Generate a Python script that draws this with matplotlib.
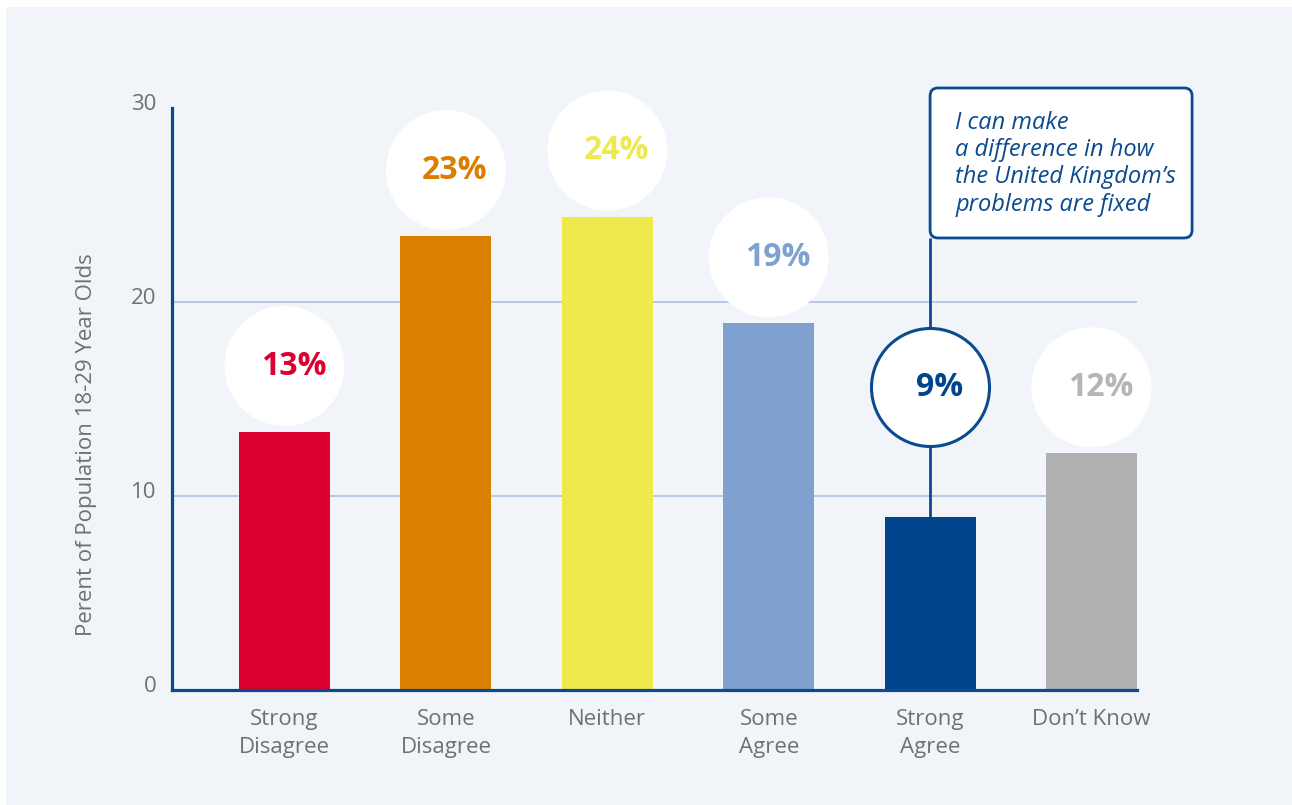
import matplotlib
matplotlib.use("Agg")
import matplotlib.pyplot as plt
from matplotlib.patches import Rectangle, FancyBboxPatch
from matplotlib.transforms import ScaledTranslation

# Survey responses, 18-29 year olds
categories = ["Strong\nDisagree", "Some\nDisagree", "Neither", "Some\nAgree", "Strong\nAgree", "Don’t Know"]
values = [13.3, 23.4, 24.4, 18.9, 8.9, 12.2]
bar_colors = ["#dc0030", "#db7f00", "#efe94e", "#7fa1d0", "#00448b", "#b0b0b0"]
label_colors = ["#dc0030", "#db7f00", "#efe94e", "#7fa1d0", "#00448b", "#b5b5b5"]
y_ticks = [0, 10, 20, 30]
highlight = 4  # "Strong Agree"
callout = "I can make\na difference in how\nthe United Kingdom’s\nproblems are fixed"

NAVY = "#0b4a8f"
GREY_TXT = "#707070"
PANEL = "#f1f4f9"
FONT = "Open Sans"

plt.rcParams["font.family"] = [FONT, "DejaVu Sans"]

fig = plt.figure(figsize=(12.92, 8.05), dpi=100, facecolor="white")
fig.patches.append(Rectangle((6 / 1292, 0), 1 - 6 / 1292, 1 - 7 / 805,
                             transform=fig.transFigure, facecolor=PANEL,
                             edgecolor="none", zorder=-10))

ax = fig.add_axes([172 / 1292, (805 - 690) / 805, 965 / 1292, 582 / 805])
ax.set_facecolor("none")

x = list(range(len(categories)))
ax.bar(x, values, width=0.564, color=bar_colors, zorder=3)

ax.set_xlim(-0.697, 5.282)
ax.set_ylim(0, 30)

# axes styling
for side in ("top", "right"):
    ax.spines[side].set_visible(False)
for side in ("left", "bottom"):
    ax.spines[side].set_color(NAVY)
    ax.spines[side].set_linewidth(2.3)
    ax.spines[side].set_zorder(5)

ax.set_yticks(y_ticks)
ax.set_yticklabels([str(t) for t in y_ticks], fontsize=16, color=GREY_TXT)
ax.tick_params(axis="y", length=0, pad=11)
for lab in ax.get_yticklabels():
    lab.set_transform(lab.get_transform() + ScaledTranslation(0, 0.06, fig.dpi_scale_trans))

ax.set_xticks(x)
ax.set_xticklabels(categories, fontsize=16, color=GREY_TXT, linespacing=1.4)
ax.tick_params(axis="x", length=0, pad=14)

ax.grid(axis="y", color="#adc2e3", linewidth=1.2, zorder=0)
ax.grid(axis="x", visible=False)
ax.yaxis.get_gridlines()[-1].set_visible(False)
ax.yaxis.get_gridlines()[0].set_visible(False)

fig.text(87 / 1292, 1 - 445 / 805, "Perent of Population 18-29 Year Olds",
         rotation=90, ha="center", va="center", fontsize=16, color=GREY_TXT)

# value bubbles
offset = 3.4
bubble_y = [v + offset for v in values]
bubble_y[highlight] = values[highlight + 1] + offset
s = (120 * 0.72) ** 2
for i, (v, by) in enumerate(zip(values, bubble_y)):
    if i == highlight:
        ax.scatter([i], [by], s=(118 * 0.72) ** 2, facecolor="white",
                   edgecolor=NAVY, linewidth=2.2, zorder=6, clip_on=False)
    else:
        ax.scatter([i], [by], s=s, facecolor="white", edgecolor="none",
                   zorder=4, clip_on=False)
    ax.annotate(f"{round(v)}%", (i, by), xytext=(6.5, 0), textcoords="offset points",
                ha="center", va="center", fontsize=23, fontweight="bold",
                color=label_colors[i], zorder=7)

# callout connected to the highlighted bar
box_bottom = 23.3
ax.plot([highlight, highlight], [values[highlight], box_bottom], color=NAVY,
        linewidth=2.0, zorder=5, clip_on=False, solid_capstyle="butt")
anchor = fig.dpi_scale_trans + ScaledTranslation(highlight, box_bottom, ax.transData)
box = FancyBboxPatch((0, 0), 2.62, 1.50, boxstyle="round,pad=0,rounding_size=0.08",
                     transform=anchor, facecolor="white", edgecolor=NAVY,
                     linewidth=2.0, zorder=6, clip_on=False)
ax.add_patch(box)
ax.text(0.25, 1.50 - 0.23, callout, transform=anchor, ha="left", va="top",
        fontsize=17, style="italic", color=NAVY, linespacing=1.18, zorder=7,
        clip_on=False)

fig.savefig("out.png", dpi=100, facecolor=fig.get_facecolor())
